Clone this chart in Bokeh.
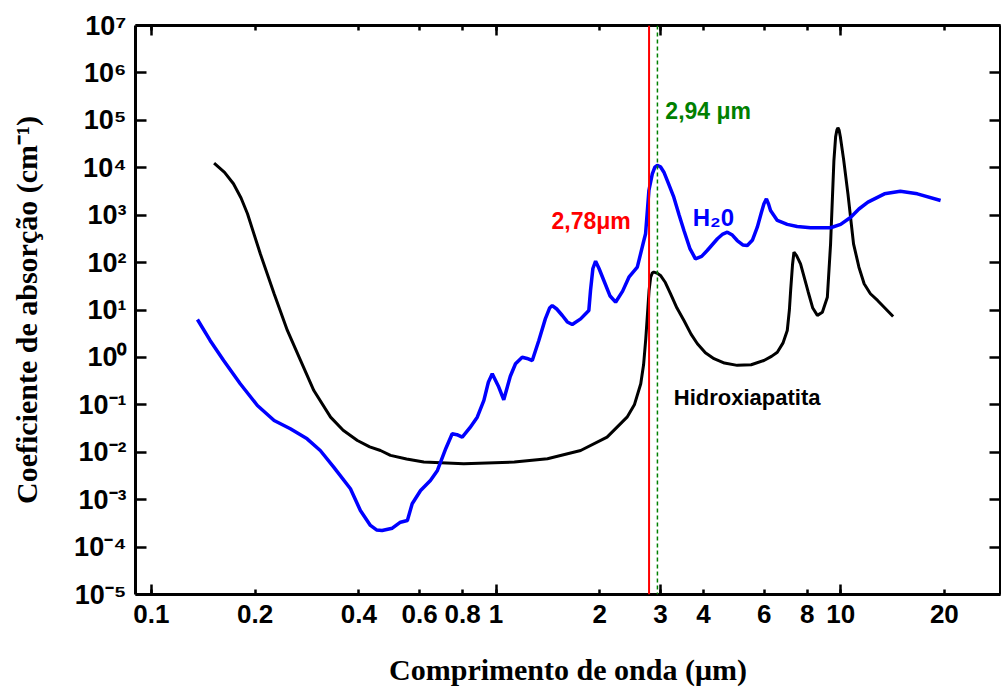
from bokeh.plotting import figure
from bokeh.models import FixedTicker, LogAxis, Span, Label, CustomJSTickFormatter
from bokeh.embed import file_html
from bokeh.resources import INLINE

# ---------------- data ----------------
hap_wl = [0.152, 0.163, 0.173, 0.182, 0.190, 0.207, 0.227, 0.248, 0.271, 0.296, 0.331, 0.360, 0.396,
          0.430, 0.462, 0.494, 0.550, 0.617, 0.806, 1.13, 1.41, 1.76, 2.10, 2.40, 2.52, 2.63,
          2.68, 2.72, 2.75, 2.78, 2.81, 2.84, 2.87, 2.93, 3.00, 3.10, 3.21, 3.35, 3.51, 3.68, 3.84, 4.05, 4.29, 4.60, 5.01,
          5.50, 5.99, 6.30, 6.55, 6.80, 7.00, 7.10, 7.16, 7.25, 7.32, 7.45, 7.65, 8.05, 8.30, 8.56, 8.85, 9.15, 9.35,
          9.56, 9.67, 9.75, 9.82, 9.90, 9.98, 10.2, 10.5, 10.9, 11.3, 11.7, 12.2, 12.8, 14.2]
hap_abs = [1.25e4, 8.0e3, 4.6e3, 2.3e3, 1.07e3, 153, 22, 3.7, 0.86, 0.20, 0.055, 0.029, 0.0177,
           0.0130, 0.0109, 0.0086, 0.0072, 0.0062, 0.0057, 0.0062, 0.0073, 0.0109, 0.0208, 0.055, 0.10, 0.278,
           0.70, 2.5, 8.0, 25.8, 49, 60, 63, 60, 53.5, 38, 22, 11, 6.0, 3.1, 1.94, 1.25, 0.94, 0.76, 0.68,
           0.70, 0.86, 1.05, 1.29, 2.0, 3.7, 10, 25.8, 90, 166, 140, 94, 24, 11, 7.7, 9.0, 18.6, 249,
           1.42e4, 4.5e4, 6.2e4, 6.96e4, 6.2e4, 4.5e4, 1.5e4, 2.82e3, 249, 80, 35.7, 22, 15.9, 7.3]

h2o_wl = [0.136, 0.148, 0.162, 0.181, 0.203, 0.227, 0.253, 0.283, 0.309, 0.338,
          0.378, 0.404, 0.432, 0.450, 0.467, 0.500, 0.528, 0.553, 0.571, 0.604, 0.645, 0.676,
          0.715, 0.746, 0.770, 0.798, 0.840, 0.882, 0.922, 0.950, 0.975, 1.015, 1.053, 1.100, 1.139, 1.191, 1.230, 1.274, 1.331,
          1.390, 1.430, 1.456, 1.500, 1.557, 1.610, 1.664, 1.760, 1.859, 1.880, 1.910, 1.945, 1.990, 2.055, 2.140, 2.223, 2.330, 2.430, 2.570,
          2.685, 2.716, 2.750, 2.777, 2.841, 2.890, 2.937, 3.00, 3.07, 3.17, 3.28, 3.40, 3.51, 3.65, 3.79, 3.95, 4.10,
          4.39, 4.55, 4.69, 4.85, 5.01, 5.20, 5.36, 5.55, 5.73, 5.88, 5.99, 6.09, 6.18, 6.26, 6.55, 7.00, 7.48,
          8.18, 9.35, 10.0, 10.7, 11.3, 12.0, 13.4, 14.9, 16.7, 19.5]
h2o_abs = [6.3, 2.28, 0.861, 0.278, 0.0969, 0.0468, 0.0313, 0.0192, 0.0109, 0.00484,
           0.0017, 5.9e-4, 2.86e-4, 2.3e-4, 2.24e-4, 2.5e-4, 3.35e-4, 3.64e-4, 8.2e-4, 1.56e-3, 2.54e-3, 4.13e-3,
           0.012, 0.0245, 0.0235, 0.0208, 0.033, 0.055, 0.124, 0.30, 0.452, 0.25, 0.128, 0.40, 0.734, 1.01, 0.95, 0.861, 2.28,
           6.5, 11.0, 12.4, 10.5, 7.66, 5.6, 4.95, 6.5, 9.77, 25.8, 75, 107, 75, 41.9, 20, 14.6, 25, 49.2, 80,
           292, 405, 1300, 3310, 7460, 10300, 11200, 10500, 8050, 4500, 2390, 1000, 475, 200, 120, 135, 180,
           318, 400, 438, 380, 292, 235, 230, 300, 558, 1100, 1740, 2210, 1700, 1260, 773, 640, 577,
           542, 542, 640, 906, 1350, 1880, 2820, 3200, 2820, 2040]

x_tick_vals = [0.1, 0.2, 0.4, 0.6, 0.8, 1, 2, 3, 4, 6, 8, 10, 20]
x_tick_labels = ["0.1", "0.2", "0.4", "0.6", "0.8", "1", "2", "3", "4", "6", "8", "10", "20"]
x_long_ticks = [0.1, 1, 3, 10]
y_exponents = [-5, -4, -3, -2, -1, 0, 1, 2, 3, 4, 5, 6, 7]
y_tick_labels = ["10⁻⁵", "10⁻⁴", "10⁻³", "10⁻²", "10⁻¹", "10⁰", "10¹", "10²",
                 "10³", "10⁴", "10⁵", "10⁶", "10⁷"]
y_tick_vals = [10.0 ** e for e in y_exponents]

line_er_cr = 2.78   # "2,78μm"
line_er_yag = 2.94  # "2,94 μm"

X_RANGE = (0.0899, 29.1)
Y_RANGE = (1e-5, 1e7)

SANS = "Liberation Sans"
SERIF = "Liberation Serif"

p = figure(width=1001, height=693, x_axis_type="log", y_axis_type="log",
           x_range=X_RANGE, y_range=Y_RANGE, output_backend="svg",
           toolbar_location=None, min_border_left=135, min_border_right=1,
           min_border_top=25, min_border_bottom=99)
p.grid.visible = False
p.outline_line_color = None
p.background_fill_color = "white"
p.border_fill_color = "white"

# curves
p.line(hap_wl, hap_abs, line_color="black", line_width=3)
p.line(h2o_wl, h2o_abs, line_color="#0000ff", line_width=3.5)

# vertical markers
p.add_layout(Span(location=line_er_cr, dimension="height", line_color="#ff0000", line_width=2))
p.add_layout(Span(location=line_er_yag, dimension="height", line_color="#008000",
                  line_width=1.5, line_dash="4 3"))

# bottom axis
xa = p.xaxis[0]
xa.ticker = FixedTicker(ticks=x_tick_vals, minor_ticks=x_long_ticks)
xa.major_label_overrides = {v: s for v, s in zip(x_tick_vals, x_tick_labels)}
xa.major_tick_in = 5
xa.major_tick_out = 0
xa.minor_tick_in = 10
xa.minor_tick_out = 0
xa.major_tick_line_width = 2.5
xa.minor_tick_line_width = 2.5
xa.axis_line_width = 3
xa.major_label_text_font = SANS
xa.major_label_text_font_style = "bold"
xa.major_label_text_font_size = "26px"
xa.major_label_text_color = "black"
xa.major_label_standoff = 10
xa.axis_label = "Comprimento de onda (μm)"
xa.axis_label_text_font = SERIF
xa.axis_label_text_font_style = "bold"
xa.axis_label_text_font_size = "30px"
xa.axis_label_text_color = "black"
xa.axis_label_standoff = 27

# left axis
ya = p.yaxis[0]
ya.ticker = FixedTicker(ticks=y_tick_vals)
ya.major_label_overrides = {v: s for v, s in zip(y_tick_vals, y_tick_labels)}
ya.major_tick_in = 11
ya.major_tick_out = 0
ya.minor_tick_in = 0
ya.minor_tick_out = 0
ya.major_tick_line_width = 2.5
ya.axis_line_width = 3
ya.major_label_standoff = 9
ya.major_label_text_font = SANS
ya.major_label_text_font_style = "bold"
ya.major_label_text_font_size = "27px"
ya.major_label_text_color = "black"
ya.axis_label = "Coeficiente de absorção (cm⁻¹)"
ya.axis_label_text_font = SERIF
ya.axis_label_text_font_style = "bold"
ya.axis_label_text_font_size = "30px"
ya.axis_label_text_color = "black"
ya.axis_label_standoff = 28

# mirrored axes (top, right) with inward ticks, no labels
top = LogAxis(ticker=FixedTicker(ticks=x_tick_vals, minor_ticks=x_long_ticks),
              formatter=CustomJSTickFormatter(code="return ''"),
              major_tick_in=5, major_tick_out=0, minor_tick_in=10, minor_tick_out=0,
              major_tick_line_width=2.5, minor_tick_line_width=2.5, axis_line_width=3,
              major_label_text_font_size="0px", major_label_standoff=0)
p.add_layout(top, "above")
right = LogAxis(ticker=FixedTicker(ticks=y_tick_vals),
                formatter=CustomJSTickFormatter(code="return ''"),
                major_tick_in=11, major_tick_out=0, minor_tick_in=0, minor_tick_out=0,
                major_tick_line_width=2.5, axis_line_width=3,
                major_label_text_font_size="0px", major_label_standoff=0)
p.add_layout(right, "right")

# annotations
p.add_layout(Label(x=3.1, y=1.6e5, text="2,94 μm", text_color="#008000",
                   text_font=SANS, text_font_style="bold", text_font_size="23px",
                   text_baseline="alphabetic"))
p.add_layout(Label(x=2.46, y=770, text="2,78μm", text_color="#ff0000", text_align="right",
                   text_font=SANS, text_font_style="bold", text_font_size="23px",
                   text_baseline="alphabetic"))
p.add_layout(Label(x=3.72, y=890, text="H₂0", text_color="#0000ff",
                   text_font=SANS, text_font_style="bold", text_font_size="24px",
                   text_baseline="alphabetic"))
p.add_layout(Label(x=3.28, y=0.143, text="Hidroxiapatita", text_color="black",
                   text_font=SANS, text_font_style="bold", text_font_size="22px",
                   text_baseline="alphabetic"))

open("out.html", "w").write(file_html(p, INLINE))
